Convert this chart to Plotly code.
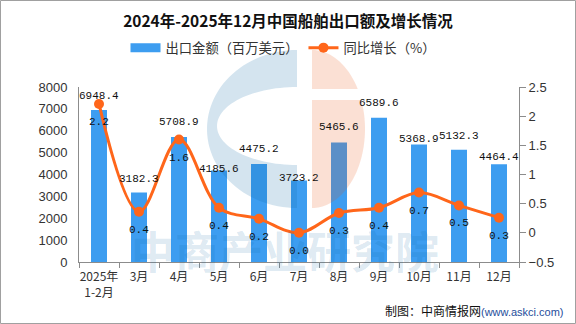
import numpy as np
import plotly.graph_objects as go

# ---------------- data ----------------
categories = ["2025年<br>1-2月", "3月", "4月", "5月", "6月", "7月", "8月", "9月", "10月", "11月", "12月"]
export_value = [6948.4, 3182.3, 5708.9, 4185.6, 4475.2, 3723.2, 5465.6, 6589.6, 5368.9, 5132.3, 4464.4]
yoy_growth = [2.21, 0.36, 1.60, 0.43, 0.24, 0.0, 0.34, 0.43, 0.69, 0.47, 0.26]
left_ticks = [0, 1000, 2000, 3000, 4000, 5000, 6000, 7000, 8000]
right_ticks = [-0.5, 0, 0.5, 1, 1.5, 2, 2.5]

# ---------------- style ----------------
BAR_COLOR = "#3D9DF0"
LINE_COLOR = "#FF661A"
AXIS_COLOR = "#8C8C8C"
TXT = "#333333"
CJK = "Noto Sans CJK SC"
MONO = "Liberation Mono"
bar_label_shift = [14, 13, 15, 1, 15, 3, 15, 15, 6, 14, 7]
line_label_shift = -18

W, H = 576, 324
L, R, T, B = 79, 57, 87, 62
PW, PH = W - L - R, H - T - B


def px(x, y):
    return (x - L) / PW, (H - B - y) / PH


def path_from(points):
    s = ""
    for i, (x, y) in enumerate(points):
        X, Y = px(x, y)
        s += ("M" if i == 0 else "L") + f"{X:.5f},{Y:.5f} "
    return s + "Z"


fig = go.Figure()
fig.add_trace(go.Bar(
    x=categories, y=export_value, name="出口金额（百万美元）", showlegend=False,
    marker=dict(color=BAR_COLOR, line=dict(width=0)), yaxis="y",
))
# legend-only entry drawn as a wide block, like the reference legend
fig.add_trace(go.Scatter(
    x=[None], y=[None], name="出口金额（百万美元）", mode="lines",
    line=dict(color=BAR_COLOR, width=9), yaxis="y",
))
fig.add_trace(go.Scatter(
    x=categories, y=yoy_growth, name="同比增长（%）", yaxis="y2",
    mode="lines+markers", line=dict(color=LINE_COLOR, width=3, shape="spline", smoothing=1.0),
    marker=dict(color=LINE_COLOR, size=10),
))

annotations = []
for c, v, s in zip(categories, export_value, bar_label_shift):
    annotations.append(dict(x=c, y=v, xref="x", yref="y", text=f"{v:.1f}", showarrow=False,
                            yanchor="middle", yshift=s, font=dict(family=MONO, size=11, color="#111")))
for c, v in zip(categories, yoy_growth):
    annotations.append(dict(x=c, y=v, xref="x", yref="y2", text=f"{v:.1f}", showarrow=False,
                            yanchor="middle", yshift=line_label_shift,
                            font=dict(family=MONO, size=11, color="#111")))

# watermark text
wx, wy = px(285, 250)
annotations.append(dict(x=wx, y=wy, xref="paper", yref="paper", text="<b>中商产业研究院</b>",
                        showarrow=False, xanchor="center", yanchor="middle",
                        font=dict(family=CJK, size=44, color="rgba(9,101,164,0.15)")))
# footer
fx, fy = px(566, 310)
annotations.append(dict(x=fx, y=fy, xref="paper", yref="paper", showarrow=False,
                        xanchor="right", yanchor="middle",
                        text="制图：中商情报网<span style='font-family:Liberation Sans;font-size:11px;color:#1F4E9C'>(www.askci.com)</span>",
                        font=dict(family=CJK, size=12, color="#111")))

# watermark logo shapes
shapes = []
cx, cy, rx, ry = 297, 129, 90, 79
icx, icy, irx, iry = 297, 126, 80, 39
outer = [(cx - rx * np.sin(t), cy - ry * np.cos(t)) for t in np.linspace(0, np.pi, 60)]
inner = [(icx - irx * np.sin(t), icy - iry * np.cos(t)) for t in np.linspace(np.pi, 0, 60)]
shapes.append(dict(type="path", xref="paper", yref="paper", path=path_from(outer + inner),
                   fillcolor="rgba(9,101,164,0.175)", line=dict(width=0), layer="above"))
ocx, ocy, orx, ory = 312, 129, 53, 79
t1 = np.arccos((ocy - 89) / ory)
t2 = np.arccos((ocy - 100) / ory)
cap = [(ocx + orx * np.sin(t), ocy - ory * np.cos(t)) for t in np.linspace(0, t1, 20)] + [(ocx, 89)]
low = [(ocx, 100)] + [(ocx + orx * np.sin(t), ocy - ory * np.cos(t)) for t in np.linspace(t2, np.pi, 50)]
for poly in (cap, low):
    shapes.append(dict(type="path", xref="paper", yref="paper", path=path_from(poly),
                       fillcolor="rgba(232,78,9,0.175)", line=dict(width=0), layer="above"))
# outer border
bx0, by0 = px(0.5, 323.5)
bx1, by1 = px(575.5, 0.5)
shapes.append(dict(type="rect", xref="paper", yref="paper", x0=bx0, y0=by0, x1=bx1, y1=by1,
                   line=dict(color="#A0A0A0", width=1), fillcolor="rgba(0,0,0,0)", layer="above"))

lx, ly = px(283, 48)
fig.update_layout(
    width=W, height=H,
    margin=dict(l=L, r=R, t=T, b=B),
    paper_bgcolor="white", plot_bgcolor="white",
    title=dict(text="<b>2024年-2025年12月中国船舶出口额及增长情况</b>", x=0.5, xanchor="center",
               xref="container", y=1 - 22 / H, yanchor="middle", yref="container",
               font=dict(family=CJK, size=15.5, color="#111")),
    legend=dict(orientation="h", x=lx, xanchor="center", y=ly, yanchor="middle",
                font=dict(family=CJK, size=13.3, color=TXT), bgcolor="rgba(0,0,0,0)",
                itemwidth=30, traceorder="normal"),
    bargap=0.6,
    showlegend=True,
    xaxis=dict(type="category", showline=True, linecolor=AXIS_COLOR, linewidth=1,
               ticks="outside", ticklen=5, tickcolor=AXIS_COLOR, tickson="boundaries",
               tickangle=0, ticklabelstandoff=4,
               tickfont=dict(family=CJK, size=12, color=TXT), showgrid=False, zeroline=False,
               range=[-0.5, len(categories) - 0.5]),
    yaxis=dict(range=[0, 8000], tickvals=left_ticks, showline=True, linecolor=AXIS_COLOR,
               linewidth=1, ticks="", showgrid=False, zeroline=False, ticklabelstandoff=8,
               tickfont=dict(family="Liberation Sans", size=13, color=TXT)),
    yaxis2=dict(range=[-0.5, 2.5], tickvals=right_ticks, overlaying="y", side="right",
                showline=True, linecolor=AXIS_COLOR, linewidth=1, ticks="outside", ticklen=6,
                tickcolor=AXIS_COLOR, showgrid=False, zeroline=False,
                tickfont=dict(family="Liberation Sans", size=13, color=TXT)),
    annotations=annotations,
    shapes=shapes,
)

fig.write_html("out.html")
